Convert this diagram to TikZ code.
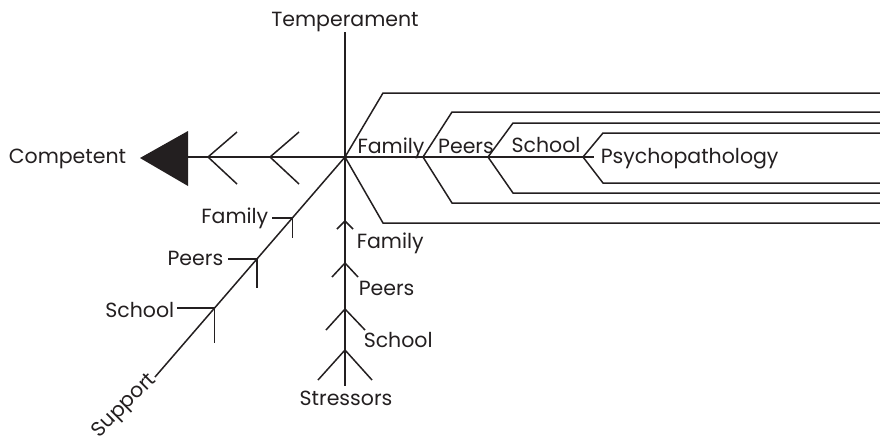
\documentclass[tikz,border=0pt]{standalone}
\usepackage{fontspec}
\setmainfont{Poppins}
\definecolor{ink}{HTML}{231F20}
\begin{document}
\begin{tikzpicture}[x=1pt,y=-1pt,line width=1.5pt,draw=ink,
  lbl/.style={font=\fontsize{20.5}{22}\selectfont,inner sep=0pt,text=ink}]
\useasboundingbox (0,0) rectangle (880,440);
% key points
\coordinate (c) at (345,157);
\coordinate (ttop) at (345,32);
\coordinate (tbot) at (345,386);
\coordinate (lend) at (188,157);
\coordinate (send) at (155,377);
\coordinate (pend) at (594,157);
% labels
\node[lbl,anchor=base] (temp) at (345,26) {Temperament};
\node[lbl,anchor=base] (comp) at (67.5,163) {Competent};
\node[lbl,anchor=base] (rfam) at (391,153) {Family};
\node[lbl,anchor=base] (rpeer) at (466,153) {Peers};
\node[lbl,anchor=base] (rsch) at (546,152) {School};
\node[lbl,anchor=base west] (psy) at (600,163) {Psychopathology};
\node[lbl,anchor=base east] (dfam) at (269,223) {Family};
\node[lbl,anchor=base east] (dpeer) at (224,265) {Peers};
\node[lbl,anchor=base east] (dsch) at (175,317) {School};
\node[lbl,anchor=base west] (vfam) at (356,248) {Family};
\node[lbl,anchor=base west] (vpeer) at (358,295) {Peers};
\node[lbl,anchor=base west] (vsch) at (363,347) {School};
\node[lbl,anchor=base] (stress) at (346,405) {Stressors};
\node[lbl,anchor=east,rotate=45] (supp) at (154,377) {Support};
% main axes
\draw (ttop) -- (tbot);
\draw (c) -- (lend);
\draw (c) -- (send);
\draw (c) -- (pend);
% head
\fill[ink] (140,158) -- (188,131) -- (188,186) -- cycle;
\draw (237,132) -- (208,157) -- (237,184);
\draw (299,132) -- (270,157) -- (299,184);
% nested bands
\draw (880,93) -- (383,93) -- (c) -- (383,223) -- (880,223);
\draw (880,112) -- (452,112) -- (423,157) -- (452,203) -- (880,203);
\draw (880,123) -- (513,123) -- (488,157) -- (513,193) -- (880,193);
\draw (880,133) -- (603,133) -- (583,157) -- (603,183) -- (880,183);
% support ticks
\draw (272,218) -- (292.3,218) -- (292.3,238);
\draw (228,259) -- (256.9,259) -- (256.9,288);
\draw (177,308) -- (214.6,308) -- (214.6,343);
% stressor chevrons
\draw (337,229) -- (345,221) -- (353,229);
\draw (332,277) -- (345,263) -- (358,277);
\draw (326,330) -- (345,309) -- (365,330);
\draw (318,380) -- (345,350) -- (372,380);
\end{tikzpicture}
\end{document}
